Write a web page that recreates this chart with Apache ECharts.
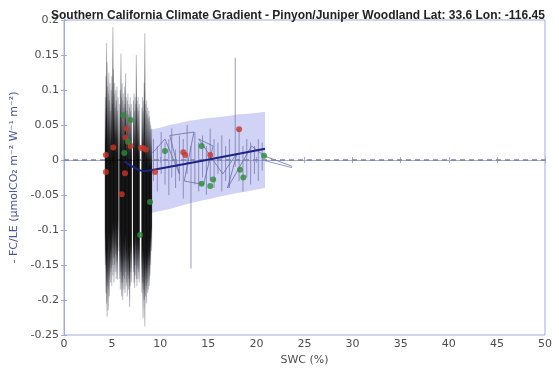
<!DOCTYPE html>
<html>
<head>
<meta charset="utf-8">
<script src="https://cdn.jsdelivr.net/npm/echarts@6/dist/echarts.min.js"></script>
<style>
  html, body { margin: 0; padding: 0; background: #fff; }
  #chart { width: 559px; height: 371px; }
</style>
</head>
<body>
<div id="chart"></div>
<script>
// Half-hourly ratio spread (dry season, low SWC): x, lower and upper whisker
const blackSwc = [4.30,4.36,4.42,4.48,4.54,4.60,4.66,4.72,4.78,4.84,4.90,4.96,5.02,5.08,5.14,5.20,5.26,5.32,5.38,5.44,5.50,5.56,5.62,
  5.80,5.86,5.92,5.98,6.04,6.10,6.16,6.22,6.28,6.34,6.40,6.46,6.52,6.58,6.64,6.70,6.76,6.82,6.88,6.94,7.00,
  7.22,7.28,7.34,7.40,7.46,7.52,7.58,7.64,7.70,7.76,7.82,
  8.10,8.16,8.22,8.28,8.34,8.40,8.46,8.52,8.58,8.64,8.70,8.76,8.82,8.88,8.94,9.00,9.10];
const blackLo = [-0.150,-0.190,-0.205,-0.224,-0.180,-0.215,-0.165,-0.195,-0.160,-0.175,-0.155,-0.180,-0.150,-0.165,-0.140,-0.175,-0.150,-0.160,-0.135,-0.170,-0.145,-0.171,-0.130,
  -0.170,-0.185,-0.160,-0.195,-0.175,-0.200,-0.165,-0.185,-0.170,-0.190,-0.160,-0.180,-0.175,-0.195,-0.165,-0.185,-0.170,-0.210,-0.180,-0.160,-0.175,
  -0.160,-0.175,-0.183,-0.165,-0.150,-0.170,-0.180,-0.155,-0.170,-0.160,-0.175,
  -0.190,-0.175,-0.226,-0.185,-0.200,-0.238,-0.195,-0.180,-0.205,-0.175,-0.190,-0.185,-0.170,-0.180,-0.165,-0.150,-0.130];
const blackHi = [0.090,0.120,0.167,0.140,0.105,0.095,0.125,0.085,0.110,0.070,0.100,0.120,0.080,0.190,0.130,0.095,0.110,0.075,0.100,0.085,0.105,0.070,0.090,
  0.080,0.100,0.152,0.090,0.110,0.085,0.095,0.075,0.105,0.080,0.124,0.090,0.070,0.085,0.095,0.065,0.080,0.075,0.090,0.070,0.080,
  0.085,0.095,0.070,0.090,0.080,0.150,0.085,0.075,0.090,0.070,0.080,
  0.075,0.090,0.070,0.085,0.110,0.181,0.080,0.070,0.085,0.065,0.075,0.060,0.070,0.062,0.055,0.050,0.045];

// Spread at wetter conditions
const wetSwc = [9.3,9.7,10.1,10.5,10.9,11.2,11.6,12.0,12.4,12.8,13.2,13.6,14.0,14.4,14.8,15.2,15.6,16.0,16.4,16.8,17.2,17.8,18.2,18.6,19.0,19.4,19.8,20.2,20.6];
const wetLo = [-0.030,-0.045,-0.020,-0.035,-0.050,-0.025,-0.040,-0.030,-0.055,-0.020,-0.155,-0.035,-0.045,-0.025,-0.050,-0.030,-0.040,-0.020,-0.045,-0.030,-0.040,-0.010,-0.030,-0.045,-0.025,-0.035,-0.020,-0.030,-0.015];
const wetHi = [0.030,0.020,0.040,0.025,0.030,0.045,0.015,0.035,0.030,0.050,0.020,0.040,0.025,0.035,0.020,0.045,0.030,0.025,0.035,0.020,0.030,0.146,0.045,0.020,0.030,0.025,0.020,0.030,0.025];

// Trajectory of the ratio through the wet period
const trackSwc = [9.2,10.5,12.0,11.0,13.5,12.5,14.5,15.5,14.0,16.5,18.0,17.0,19.5,20.8,23.7];
const trackVal = [0.010,0.030,-0.020,0.035,0.040,-0.030,-0.035,0.020,0.030,-0.020,0.010,-0.040,0.020,0.006,-0.009];
const tailSwc = [20.9,23.7];
const tailVal = [-0.001,-0.011];

// Confidence envelope of the fit
const bandSwc = [8.9,10,11,12,13,14,15,16,17,18,19,20,20.9];
const bandHi = [0.043,0.046,0.050,0.053,0.056,0.058,0.060,0.061,0.063,0.065,0.066,0.067,0.069];
const bandLo = [-0.076,-0.073,-0.070,-0.066,-0.062,-0.059,-0.056,-0.053,-0.050,-0.047,-0.045,-0.042,-0.040];

// Fitted relationship
const fitSwc = [6.3,7.2,8.3,8.9,20.9];
const fitVal = [-0.002,-0.010,-0.016,-0.015,0.016];

// Monthly means
const redSwc = [4.35,4.35,5.13,6.52,6.41,6.93,8.0,8.5,8.24,6.0,6.34,9.46,12.4,12.6,15.2,18.2];
const redVal = [0.007,-0.017,0.018,0.045,0.032,0.020,0.017,0.015,0.017,-0.049,-0.019,-0.017,0.011,0.007,0.007,0.044];
const greenSwc = [6.17,6.93,6.65,6.27,10.5,8.94,7.9,14.3,14.3,15.5,15.2,18.3,18.64,20.8];
const greenVal = [0.064,0.057,0.026,0.010,0.013,-0.060,-0.107,0.020,-0.034,-0.028,-0.037,-0.014,-0.025,0.006];

const xTicks = { min: 0, max: 50, interval: 5 };
const yTicks = { min: -0.25, max: 0.2, interval: 0.05 };

const zip2 = (a, b) => a.map((v, i) => [v, b[i]]);
const zip3 = (a, b, c) => a.map((v, i) => [v, b[i], c[i]]);

// vertical whisker; optional fade toward both tips
function whiskers(color, width, tipColor) {
  return function (params, api) {
    const p1 = api.coord([api.value(0), api.value(1)]);
    const p2 = api.coord([api.value(0), api.value(2)]);
    const stroke = tipColor ? {
      type: 'linear', global: true, x: p1[0], y: p2[1], x2: p1[0], y2: p1[1],
      colorStops: [
        { offset: 0, color: tipColor }, { offset: 0.3, color: color },
        { offset: 0.8, color: color }, { offset: 1, color: tipColor }
      ]
    } : color;
    return {
      type: 'line',
      shape: { x1: p1[0], y1: p1[1], x2: p2[0], y2: p2[1] },
      style: { stroke: stroke, lineWidth: width }
    };
  };
}

const axisColor = '#a3aad8';
const labelStyle = { color: '#4d4d4d', fontFamily: 'DejaVu Sans', fontSize: 11 };

const chart = echarts.init(document.getElementById('chart'), null, { renderer: 'canvas' });
chart.setOption({
  animation: false,
  backgroundColor: '#fff',
  title: {
    text: 'Southern California Climate Gradient - Pinyon/Juniper Woodland Lat: 33.6 Lon: -116.45',
    left: 46, top: 5,
    textStyle: { fontFamily: 'Liberation Sans', fontWeight: 'bold', fontSize: 12, color: '#222' }
  },
  grid: { left: 64, right: 14, top: 20, bottom: 36, show: true, borderColor: axisColor, borderWidth: 1 },
  xAxis: [{
    type: 'value', min: xTicks.min, max: xTicks.max, interval: xTicks.interval,
    name: 'SWC (%)', nameLocation: 'middle', nameGap: 17,
    nameTextStyle: { color: '#4d4d4d', fontFamily: 'DejaVu Sans', fontSize: 11 },
    axisLine: { lineStyle: { color: axisColor } },
    axisTick: { inside: true, length: 3, lineStyle: { color: axisColor } },
    axisLabel: Object.assign({ margin: 4 }, labelStyle),
    splitLine: { show: false }
  }, {
    type: 'value', position: 'top', min: xTicks.min, max: xTicks.max, interval: xTicks.interval,
    axisLine: { lineStyle: { color: axisColor } },
    axisTick: { inside: true, length: 3, lineStyle: { color: axisColor } },
    axisLabel: { show: false }, splitLine: { show: false }
  }],
  yAxis: [{
    type: 'value', min: yTicks.min, max: yTicks.max, interval: yTicks.interval,
    name: '- FC/LE (μmolCO₂ m⁻² W⁻¹ m⁻²)', nameLocation: 'middle', nameGap: 40,
    nameTextStyle: { color: '#4a5897', fontFamily: 'DejaVu Sans', fontSize: 11 },
    axisLine: { show: true, lineStyle: { color: axisColor } },
    axisTick: { show: true, inside: true, length: 3, lineStyle: { color: axisColor } },
    axisLabel: Object.assign({ margin: 5 }, labelStyle),
    splitLine: { show: false }
  }, {
    type: 'value', position: 'right', min: yTicks.min, max: yTicks.max, interval: yTicks.interval,
    axisLine: { show: true, lineStyle: { color: axisColor } },
    axisTick: { show: true, inside: true, length: 3, lineStyle: { color: axisColor } },
    axisLabel: { show: false }, splitLine: { show: false }
  }],
  series: [
    {
      // confidence envelope
      type: 'custom', z: 1, silent: true,
      data: [[bandSwc[0], bandLo[0], bandHi[0]]],
      renderItem: function (params, api) {
        const pts = [];
        bandSwc.forEach((x, i) => pts.push(api.coord([x, bandHi[i]])));
        for (let i = bandSwc.length - 1; i >= 0; i--) pts.push(api.coord([bandSwc[i], bandLo[i]]));
        return { type: 'polygon', shape: { points: pts }, style: { fill: 'rgba(150,155,236,0.45)' } };
      }
    },
    {
      type: 'custom', z: 2, silent: true,
      data: zip3(wetSwc, wetLo, wetHi),
      renderItem: whiskers('rgba(110,114,170,0.7)', 1)
    },
    {
      type: 'line', z: 2, silent: true, symbol: 'none',
      data: zip2(trackSwc, trackVal),
      lineStyle: { color: 'rgba(105,110,165,0.8)', width: 1 }
    },
    {
      type: 'line', z: 2, silent: true, symbol: 'none',
      data: zip2(tailSwc, tailVal),
      lineStyle: { color: 'rgba(120,126,200,0.8)', width: 1 }
    },
    {
      // zero reference
      type: 'line', z: 3, silent: true, symbol: 'none',
      data: [[xTicks.min, 0], [xTicks.max, 0]],
      lineStyle: { color: '#7a819f', width: 1.5, type: [5, 4] }
    },
    {
      type: 'custom', z: 4, silent: true,
      data: zip3(blackSwc, blackLo, blackHi),
      renderItem: whiskers('rgba(0,0,0,0.85)', 1.1, 'rgba(90,90,110,0.35)')
    },
    {
      type: 'line', z: 5, silent: true, symbol: 'none', smooth: 0.3,
      data: zip2(fitSwc, fitVal),
      lineStyle: { color: '#1c2585', width: 2 }
    },
    {
      type: 'scatter', z: 6, silent: true, symbol: 'circle', symbolSize: 6,
      data: zip2(redSwc, redVal),
      itemStyle: { color: '#c4372a' }
    },
    {
      type: 'scatter', z: 6, silent: true, symbol: 'circle', symbolSize: 6,
      data: zip2(greenSwc, greenVal),
      itemStyle: { color: '#2e8a3a' }
    }
  ]
});
</script>
</body>
</html>
